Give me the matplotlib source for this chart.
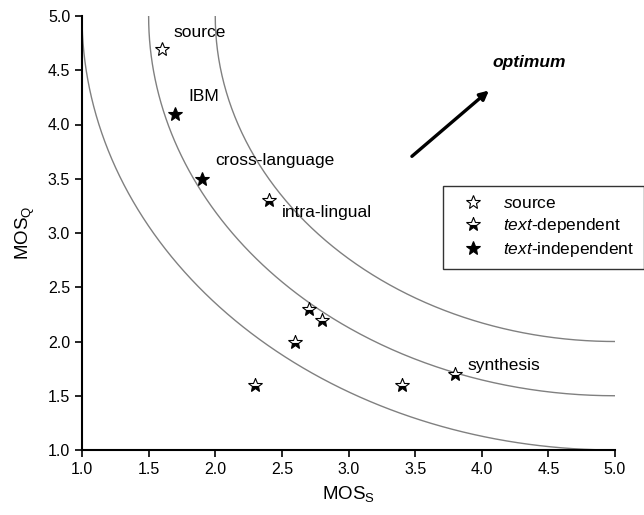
import numpy as np
import matplotlib
matplotlib.use("Agg")
import matplotlib.pyplot as plt
from matplotlib.lines import Line2D

plt.rcParams['font.family'] = ['Liberation Sans', 'DejaVu Sans']
plt.rcParams['mathtext.fontset'] = 'custom'
plt.rcParams['mathtext.rm'] = 'Liberation Sans'
plt.rcParams['mathtext.it'] = 'Liberation Sans:italic'
plt.rcParams['mathtext.bf'] = 'Liberation Sans:bold'

# data
src_x = [1.6]
src_y = [4.7]
dep_x = [2.4, 2.7, 2.8, 2.6, 2.3, 3.4, 3.8]
dep_y = [3.3, 2.3, 2.2, 2.0, 1.6, 1.6, 1.7]
ind_x = [1.7, 1.9]
ind_y = [4.1, 3.5]

labels = ["source", "IBM", "cross-language", "intra-lingual", "synthesis"]
label_x = [1.69, 1.80, 2.0, 2.5, 3.89]
label_y = [4.85, 4.26, 3.67, 3.19, 1.78]

# distance arcs around the optimum (5, 5)
radii = [4.0, 3.5, 3.0]
center = (5.0, 5.0)

fig = plt.figure(figsize=(6.44, 5.15), dpi=100)
ax = fig.add_axes([82/644, 1 - 450/515, 533/644, 434/515])

t = np.linspace(np.pi, 1.5 * np.pi, 300)
for r in radii:
    ax.plot(center[0] + r * np.cos(t), center[1] + r * np.sin(t),
            color="#808080", lw=1.0, zorder=1)

ms = 10
star_open = dict(ls="none", marker="*", ms=ms, markerfacecolor="white",
                 markeredgecolor="black", markeredgewidth=0.8)
star_half = dict(ls="none", marker="*", ms=ms, markerfacecolor="black",
                 markerfacecoloralt="white", fillstyle="bottom",
                 markeredgecolor="black", markeredgewidth=0.8)
star_full = dict(ls="none", marker="*", ms=ms, markerfacecolor="black",
                 markeredgecolor="black", markeredgewidth=0.8)

ax.plot(src_x, src_y, zorder=3, **star_open)
ax.plot(dep_x, dep_y, zorder=3, **star_half)
ax.plot(ind_x, ind_y, zorder=3, **star_full)

for s, x, y in zip(labels, label_x, label_y):
    ax.text(x, y, s, fontsize=12.5, va="center", ha="left")

ax.annotate("", xy=(4.07, 4.33), xytext=(3.46, 3.69),
            arrowprops=dict(arrowstyle="-|>", color="black", lw=2.4,
                            mutation_scale=13))
ax.text(4.08, 4.57, "optimum", fontsize=12.5, fontweight="bold",
        fontstyle="italic", va="center", ha="left")

ax.set_xlim(1.0, 5.0)
ax.set_ylim(1.0, 5.0)
ax.set_xticks(np.arange(1.0, 5.01, 0.5))
ax.set_yticks(np.arange(1.0, 5.01, 0.5))
ax.xaxis.set_major_formatter(plt.FormatStrFormatter("%.1f"))
ax.yaxis.set_major_formatter(plt.FormatStrFormatter("%.1f"))
ax.tick_params(direction="out", length=5, width=1.2, labelsize=11.5)
for side in ["top", "right"]:
    ax.spines[side].set_visible(False)
for side in ["left", "bottom"]:
    ax.spines[side].set_linewidth(1.5)

ax.set_xlabel(r"MOS$_\mathrm{S}$", fontsize=13.5, labelpad=5)
ax.set_ylabel(r"MOS$_\mathrm{Q}$", fontsize=13.5, labelpad=8)

handles = [Line2D([], [], **star_open), Line2D([], [], **star_half),
           Line2D([], [], **star_full)]
leg = fig.legend(handles, [r"$\mathit{s}$ource", r"$\mathit{text}$-dependent",
                           r"$\mathit{text}$-independent"],
                 loc="upper left", bbox_to_anchor=(443/644, 1 - 186/515),
                 fontsize=12.5, frameon=True, fancybox=False, edgecolor="black",
                 borderpad=0.55, handletextpad=0.5, labelspacing=0.3,
                 borderaxespad=0, handlelength=2.4)
leg.get_frame().set_linewidth(1.0)

fig.savefig("out.png", dpi=100)
